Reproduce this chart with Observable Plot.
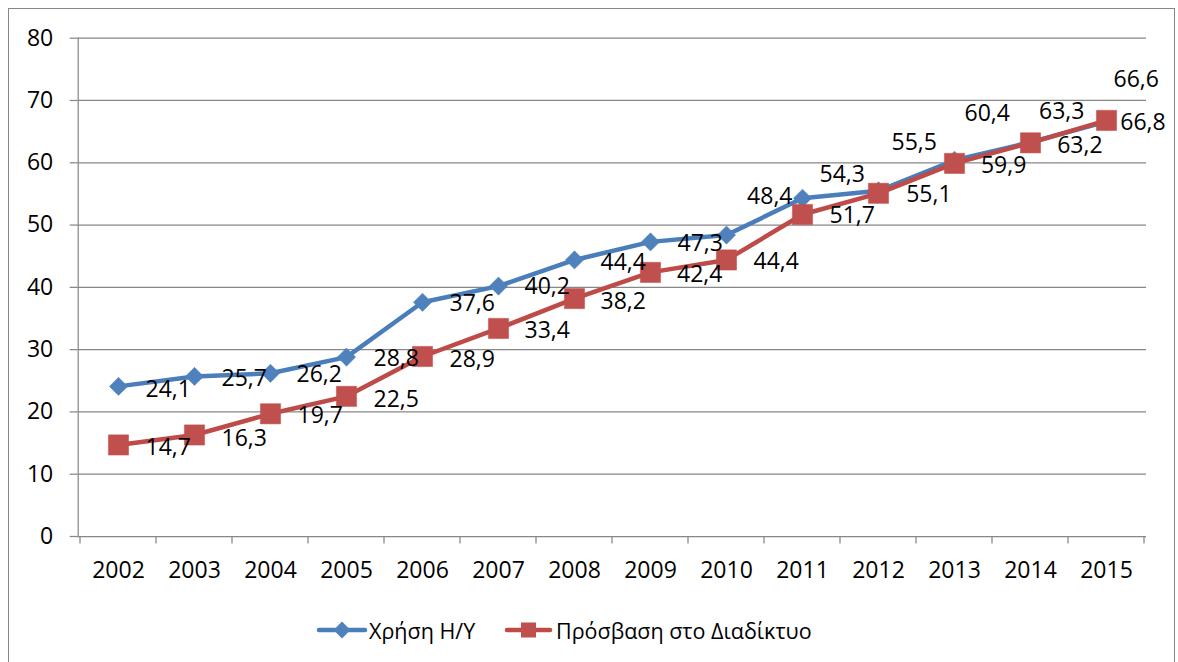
<!DOCTYPE html>
<html><head><meta charset="utf-8">
<script src="https://cdn.jsdelivr.net/npm/d3@7"></script>
<script src="https://cdn.jsdelivr.net/npm/@observablehq/plot@0.6"></script>
<style>
html,body{margin:0;padding:0;background:#fff;}
#wrap{position:relative;width:1178px;height:662px;overflow:hidden;font-family:"Open Sans",Lato,sans-serif;background:#fff;}
#border{position:absolute;left:8px;top:8px;width:1167px;height:660px;border:1px solid #878787;box-sizing:border-box;}
#chart{position:absolute;left:0;top:0;}
#legend{position:absolute;left:0;top:618px;width:1178px;height:24px;font-size:21.5px;color:#000;white-space:nowrap;}
#legend .item{position:absolute;top:0;height:24px;display:flex;align-items:center;}
#legend svg{display:block;}
</style></head>
<body>
<div id="wrap">
  <div id="border"></div>
  <div id="chart"></div>
  <div id="legend"></div>
</div>
<script>
// ---- data ----
const years = ["2002","2003","2004","2005","2006","2007","2008","2009","2010","2011","2012","2013","2014","2015"];
const pcUse = [24.1,25.7,26.2,28.8,37.6,40.2,44.4,47.3,48.4,54.3,55.5,60.4,63.3,66.6];
const internetAccess = [14.7,16.3,19.7,22.5,28.9,33.4,38.2,42.4,44.4,51.7,55.1,59.9,63.2,66.8];
const seriesNames = ["Χρήση Η/Υ", "Πρόσβαση στο Διαδίκτυο"];
const yTicks = [0,10,20,30,40,50,60,70,80];

// ---- label placement (pixel offsets from each point) ----
const blueDx = [27,27,26,27,27,26,26,27,20.6,17,13,10,8.5,7];
const blueDy = [3,2,1,2,1.5,1,2.5,1.5,-38,-23.5,-48,-46.5,-31,-42.5];
const redDx  = [27,27,27,27,27,26,26,26.5,27,27,27.7,26.4,26.7,13.8];
const redDy  = [2.5,3.5,1.5,3.5,3,2.5,3.5,2.5,2,1.5,1.8,2.5,3.2,2.5];

const blue = "#4F81BD", blueLine = "#4A7EBB";
const red = "#C0504D", redLine = "#BE4B48";
const gridColor = "#878787";
const font = '"Open Sans", Lato, sans-serif';

const pcRows = years.map((year, i) => ({year, value: pcUse[i], series: seriesNames[0]}));
const netRows = years.map((year, i) => ({year, value: internetAccess[i], series: seriesNames[1]}));
const fmt = v => v.toFixed(1).replace(".", ",");

function categoryTicks(index, scales, values, dims) {
  const g = d3.create("svg:g").attr("stroke", gridColor).attr("stroke-width", 1.25);
  const xs = years.map(y => scales.x(y));
  const half = (xs[1] - xs[0]) / 2;
  const edges = xs.map(x => x - half).concat([xs[xs.length - 1] + half]);
  const y0 = dims.height - dims.marginBottom;
  for (const e of edges) g.append("line").attr("x1", e).attr("x2", e).attr("y1", y0).attr("y2", y0 + 7.5);
  return g.node();
}

const labelMarks = [];
pcRows.forEach((d, i) => labelMarks.push(
  Plot.text([d], {x: "year", y: "value", text: r => fmt(r.value), textAnchor: "start", dx: blueDx[i], dy: blueDy[i], fill: "#000"})));
netRows.forEach((d, i) => labelMarks.push(
  Plot.text([d], {x: "year", y: "value", text: r => fmt(r.value), textAnchor: "start", dx: redDx[i], dy: redDy[i], fill: "#000"})));

const chart = Plot.plot({
  width: 1178, height: 600,
  marginLeft: 77.7, marginRight: 32, marginTop: 37.7, marginBottom: 64,
  style: {fontFamily: font, fontSize: "23px", color: "#000", background: "transparent", overflow: "visible"},
  x: {type: "point", domain: years, padding: 0.5},
  y: {domain: [0, 80]},
  marks: [
    Plot.ruleY(yTicks, {stroke: gridColor, strokeWidth: 1.25}),
    Plot.frame({anchor: "left", stroke: gridColor, strokeWidth: 1.25}),
    Plot.axisY({ticks: yTicks, tickSize: 8, tickPadding: 17, stroke: gridColor, strokeWidth: 1.25, label: null, fill: "#000"}),
    Plot.axisX({tickSize: 0, tickPadding: 25, label: null, fill: "#000"}),
    categoryTicks,
    Plot.line(pcRows, {x: "year", y: "value", stroke: blueLine, strokeWidth: 4.5, strokeLinejoin: "round", strokeLinecap: "round"}),
    Plot.dot(pcRows, {x: "year", y: "value", symbol: "diamond2", r: 8.2, fill: blue, stroke: blue, strokeWidth: 0.5}),
    Plot.line(netRows, {x: "year", y: "value", stroke: redLine, strokeWidth: 4.5, strokeLinejoin: "round", strokeLinecap: "round"}),
    Plot.dot(netRows, {x: "year", y: "value", symbol: "square", r: 11.4, fill: red, stroke: red, strokeWidth: 0.5}),
    ...labelMarks
  ]
});
document.getElementById("chart").appendChild(chart);

// ---- legend ----
const legend = d3.select("#legend");
const it1 = legend.append("div").attr("class", "item").style("left", "314px");
const s1 = it1.append("svg").attr("width", 55).attr("height", 24);
s1.append("line").attr("x1", 5).attr("x2", 51).attr("y1", 12).attr("y2", 12).attr("stroke", blueLine).attr("stroke-width", 4.5).attr("stroke-linecap", "round");
s1.append("path").attr("d", d3.symbol(d3.symbolDiamond2, Math.PI * 7.6 * 7.6)()).attr("transform", "translate(28,12)").attr("fill", blue);
it1.append("span").text(seriesNames[0]);
const it2 = legend.append("div").attr("class", "item").style("left", "502px");
const s2 = it2.append("svg").attr("width", 54).attr("height", 24);
s2.append("line").attr("x1", 5).attr("x2", 48).attr("y1", 12).attr("y2", 12).attr("stroke", redLine).attr("stroke-width", 4.5).attr("stroke-linecap", "round");
s2.append("rect").attr("x", 19).attr("y", 4.5).attr("width", 15).attr("height", 15).attr("fill", red);
it2.append("span").text(seriesNames[1]);
</script>
</body></html>
